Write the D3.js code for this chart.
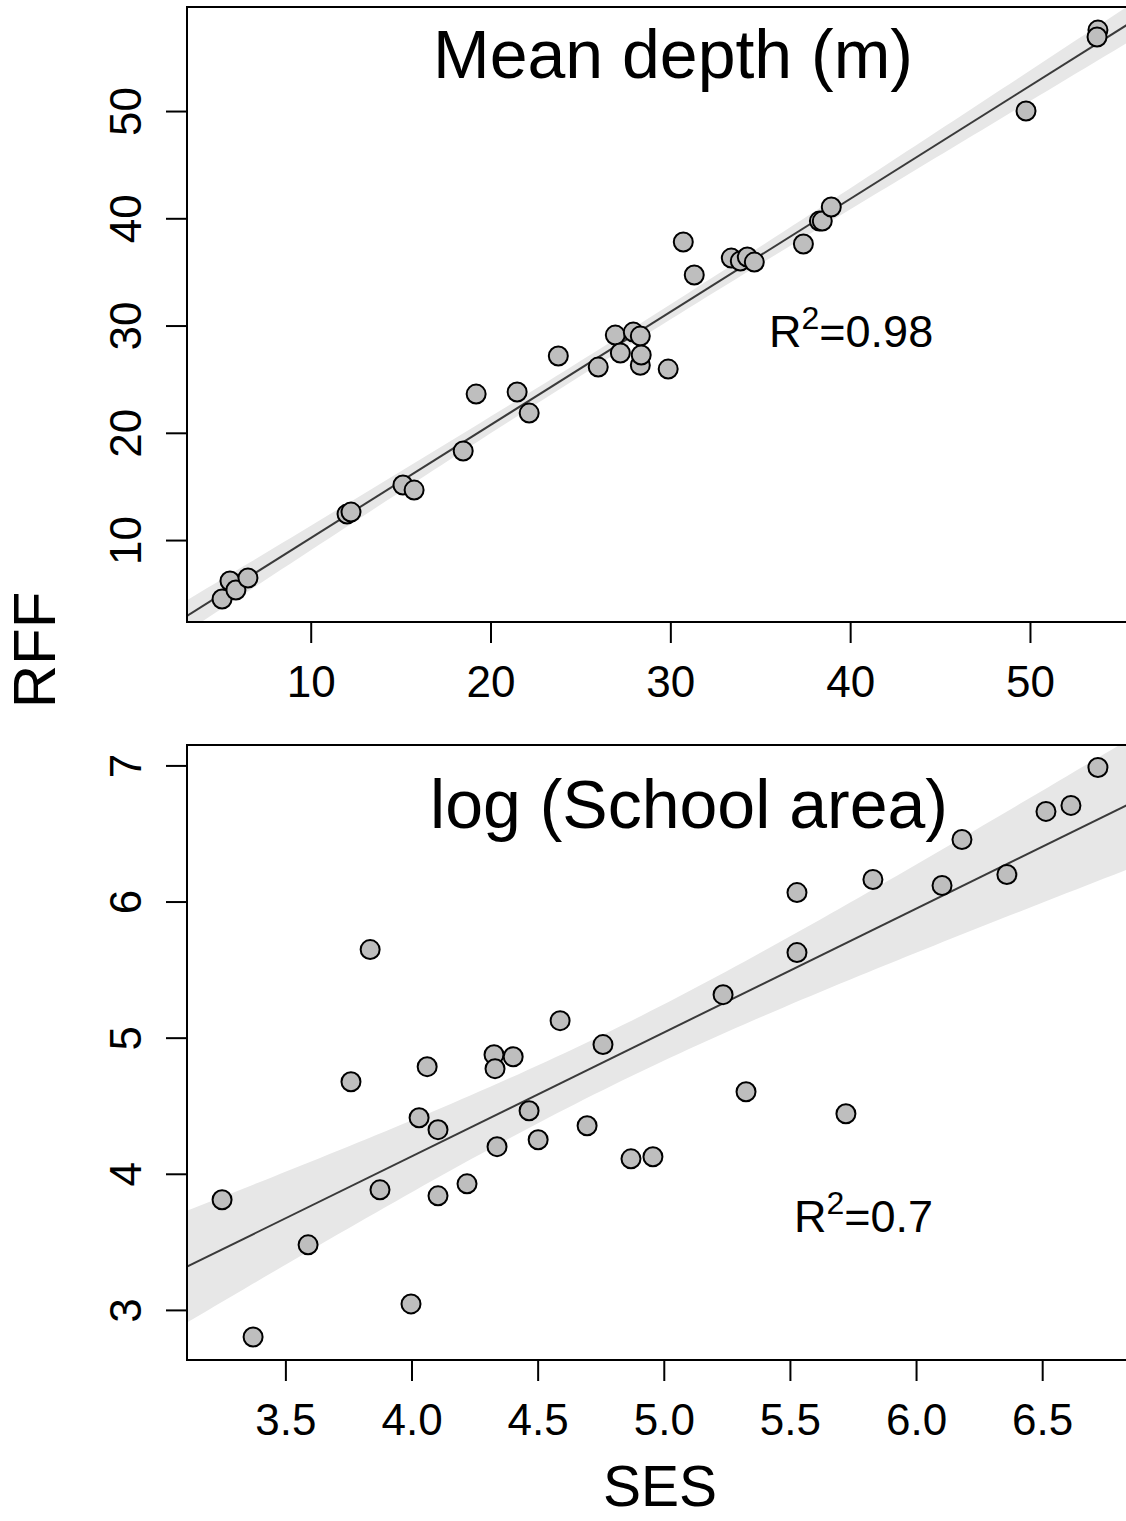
<!DOCTYPE html>
<html lang="en">
  <head>
    <meta charset="utf-8">
    <title>RFF vs SES</title>
    <script src="https://cdn.jsdelivr.net/npm/d3@7"></script>
    <style>
      body { margin: 0; background: #fff; }
      text { font-family: "Liberation Sans", Arial, sans-serif; fill: #000; }
    </style>
  </head>
  <body>
    <script>
      // top panel: mean depth (m) vs RFF
      var depthX = [5.07, 5.51, 5.84, 6.51, 12.02, 12.24, 15.13, 15.75, 18.48, 19.20,
                    21.48, 22.15, 23.77, 25.99, 26.94, 27.22, 27.94, 28.33, 28.33, 28.38,
                    29.88, 30.72, 31.33, 33.39, 33.89, 34.28, 34.67, 37.40, 38.29, 38.45,
                    38.95, 49.78, 53.78, 53.73];
      var depthY = [4.50, 6.18, 5.34, 6.46, 12.42, 12.61, 15.13, 14.66, 18.30, 23.61,
                    23.80, 21.84, 27.16, 26.13, 29.11, 27.44, 29.39, 29.02, 26.30, 27.25,
                    25.94, 37.79, 34.71, 36.29, 36.01, 36.39, 35.92, 37.60, 39.74, 39.74,
                    41.05, 50.00, 57.55, 56.90];

      // bottom panel: log(school area) vs SES
      var sesX = [3.249, 3.372, 3.590, 3.760, 3.836, 3.875, 3.998, 4.030, 4.062, 4.105,
                  4.105, 4.220, 4.327, 4.331, 4.339, 4.403, 4.466, 4.502, 4.589, 4.696,
                  4.759, 4.870, 4.957, 5.235, 5.326, 5.528, 5.528, 5.722, 5.829, 6.103,
                  6.182, 6.360, 6.515, 6.614, 6.721];
      var sesY = [3.809, 2.801, 3.478, 4.676, 5.647, 3.882, 3.044, 4.412, 4.787, 4.324,
                  3.838, 3.926, 4.875, 4.772, 4.199, 4.860, 4.463, 4.250, 5.125, 4.353,
                  4.949, 4.110, 4.125, 5.316, 4.603, 6.066, 5.625, 4.441, 6.162, 6.118,
                  6.456, 6.199, 6.662, 6.706, 6.985];

      var depthTicks = [10, 20, 30, 40, 50];
      var rffDepthTicks = [10, 20, 30, 40, 50];
      var sesTicks = [3.5, 4.0, 4.5, 5.0, 5.5, 6.0, 6.5];
      var rffSesTicks = [3, 4, 5, 6, 7];
      var titles = ["Mean depth (m)", "log (School area)"];
      var r2Values = ["0.98", "0.7"];

      var w = 1126, h = 1521;
      var left = 187, right = 1133;

      var svg = d3.select("body").append("svg")
                  .attr("width", w).attr("height", h);

      var panels = [
        { xs: depthX, ys: depthY, xTicks: depthTicks, yTicks: rffDepthTicks,
          xDom: [3.12, 55.73], yDom: [2.36, 59.7], top: 7, bottom: 622,
          fmt: d3.format("d"), title: titles[0], titleX: 673, titleY: 78,
          r2: r2Values[0], r2X: 769, r2Y: 347 },
        { xs: sesX, ys: sesY, xTicks: sesTicks, yTicks: rffSesTicks,
          xDom: [3.11, 6.86], yDom: [2.632, 7.15], top: 745, bottom: 1360,
          fmt: d3.format(".1f"), title: titles[1], titleX: 689, titleY: 828,
          r2: r2Values[1], r2X: 794, r2Y: 1232 }
      ];

      // simple least squares fit with 95% confidence band
      function fit(xs, ys) {
        var n = xs.length, mx = d3.mean(xs), my = d3.mean(ys);
        var sxx = d3.sum(xs, function(x) { return (x - mx) * (x - mx); });
        var sxy = d3.sum(xs, function(x, i) { return (x - mx) * (ys[i] - my); });
        var b = sxy / sxx, a = my - b * mx;
        var s2 = d3.sum(xs, function(x, i) { var r = ys[i] - a - b * x; return r * r; }) / (n - 2);
        var t = 2.035;
        return {
          y: function(x) { return a + b * x; },
          se: function(x) { return t * Math.sqrt(s2 * (1 / n + (x - mx) * (x - mx) / sxx)); }
        };
      }

      panels.forEach(function(p, k) {
        var x = d3.scaleLinear().domain(p.xDom).range([left, right]);
        var y = d3.scaleLinear().domain(p.yDom).range([p.bottom, p.top]);
        var m = fit(p.xs, p.ys);

        svg.append("clipPath").attr("id", "clip" + k)
           .append("rect")
           .attr("x", left).attr("y", p.top)
           .attr("width", right - left).attr("height", p.bottom - p.top);

        var g = svg.append("g").attr("clip-path", "url(#clip" + k + ")");

        var grid = d3.range(0, 101).map(function(i) {
          return p.xDom[0] + (p.xDom[1] - p.xDom[0]) * i / 100;
        });

        g.append("path")
         .datum(grid)
         .attr("fill", "#e7e7e7")
         .attr("d", d3.area()
           .x(function(d) { return x(d); })
           .y0(function(d) { return y(m.y(d) - m.se(d)); })
           .y1(function(d) { return y(m.y(d) + m.se(d)); }));

        g.append("line")
         .attr("x1", x(p.xDom[0])).attr("y1", y(m.y(p.xDom[0])))
         .attr("x2", x(p.xDom[1])).attr("y2", y(m.y(p.xDom[1])))
         .attr("stroke", "#3a3a3a").attr("stroke-width", 2);

        g.selectAll("circle")
         .data(p.xs.map(function(d, i) { return [d, p.ys[i]]; }))
         .enter().append("circle")
         .attr("cx", function(d) { return x(d[0]); })
         .attr("cy", function(d) { return y(d[1]); })
         .attr("r", 9.5)
         .attr("fill", "#bebebe")
         .attr("stroke", "#000")
         .attr("stroke-width", 2);

        svg.append("rect")
           .attr("x", left).attr("y", p.top)
           .attr("width", right - left).attr("height", p.bottom - p.top)
           .attr("fill", "none").attr("stroke", "#000").attr("stroke-width", 2);

        // x axis
        var xAxis = svg.append("g")
           .attr("transform", "translate(0," + p.bottom + ")")
           .call(d3.axisBottom(x).tickValues(p.xTicks).tickFormat(p.fmt)
                   .tickSizeInner(21).tickSizeOuter(0));
        xAxis.select(".domain").remove();
        xAxis.selectAll("line").attr("stroke", "#000").attr("stroke-width", 2);
        xAxis.selectAll("text")
             .attr("y", 75).attr("dy", 0)
             .style("font-size", "44px");

        // y axis, labels parallel to the axis
        var yAxis = svg.append("g")
           .attr("transform", "translate(" + left + ",0)")
           .call(d3.axisLeft(y).tickValues(p.yTicks).tickFormat(d3.format("d"))
                   .tickSizeInner(21).tickSizeOuter(0));
        yAxis.select(".domain").remove();
        yAxis.selectAll("line").attr("stroke", "#000").attr("stroke-width", 2);
        yAxis.selectAll("text")
             .attr("x", 0).attr("y", -46).attr("dy", 0)
             .attr("transform", "rotate(-90)")
             .attr("text-anchor", "middle")
             .style("font-size", "44px");

        svg.append("text")
           .attr("x", p.titleX).attr("y", p.titleY)
           .attr("text-anchor", "middle")
           .style("font-size", "68px")
           .text(p.title);

        var r2 = svg.append("text")
           .attr("x", p.r2X).attr("y", p.r2Y)
           .style("font-size", "45px");
        r2.append("tspan").text("R");
        r2.append("tspan").attr("dy", -18).style("font-size", "32px").text("2");
        r2.append("tspan").attr("dy", 18).text("=" + p.r2);
      });

      svg.append("text")
         .attr("transform", "translate(55,650) rotate(-90)")
         .attr("text-anchor", "middle")
         .style("font-size", "60px")
         .text("RFF");

      svg.append("text")
         .attr("x", 660).attr("y", 1506)
         .attr("text-anchor", "middle")
         .style("font-size", "57px")
         .text("SES");
    </script>
  </body>
</html>
